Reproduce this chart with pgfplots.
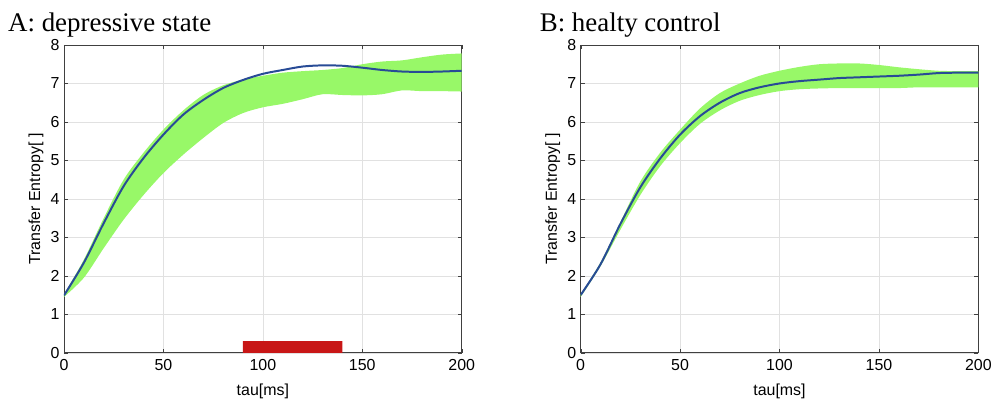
\documentclass[border=0pt]{standalone}
\usepackage{pgfplots}
\pgfplotsset{compat=1.18}
\usepgfplotslibrary{fillbetween}
\usepackage{fontspec}
\setmainfont{Liberation Sans}
\newfontfamily\titlefont{Liberation Serif}
\definecolor{bandgreen}{RGB}{152,248,104}
\definecolor{meanblue}{RGB}{40,75,150}
\definecolor{sigred}{RGB}{200,22,22}
\definecolor{gridgray}{RGB}{225,225,225}

% panel A
\pgfplotstableread{
x mean up lo
0 1.49 1.52 1.45
10 2.34 2.42 1.95
20 3.37 3.50 2.72
30 4.33 4.50 3.46
40 5.06 5.20 4.10
50 5.67 5.80 4.67
60 6.19 6.30 5.15
70 6.57 6.70 5.58
80 6.88 6.95 5.97
90 7.09 7.10 6.23
100 7.25 7.20 6.38
110 7.35 7.28 6.47
120 7.44 7.32 6.59
130 7.47 7.35 6.72
140 7.46 7.40 6.70
150 7.41 7.50 6.69
160 7.35 7.57 6.72
170 7.31 7.60 6.82
180 7.30 7.68 6.80
190 7.31 7.75 6.80
200 7.33 7.78 6.79
}\dataA

% panel B
\pgfplotstableread{
x mean up lo
0 1.50 1.52 1.45
10 2.30 2.35 2.25
20 3.35 3.40 3.20
30 4.30 4.45 4.10
40 5.05 5.20 4.85
50 5.67 5.80 5.45
60 6.15 6.35 5.95
70 6.50 6.75 6.30
80 6.75 7.00 6.55
90 6.90 7.20 6.70
100 7.00 7.33 6.80
110 7.06 7.43 6.85
120 7.10 7.50 6.87
130 7.14 7.52 6.88
140 7.16 7.52 6.88
150 7.18 7.48 6.88
160 7.20 7.42 6.88
170 7.23 7.37 6.90
180 7.27 7.33 6.90
190 7.28 7.32 6.90
200 7.28 7.32 6.90
}\dataB

\pgfplotstableread{
x y
90 0.3
140 0.3
}\dataBar

\pgfplotsset{
  panel/.style={
    scale only axis, width=398bp, height=308bp,
    xmin=0, xmax=200, ymin=0, ymax=8,
    xtick={0,50,100,150,200}, ytick={0,1,2,3,4,5,6,7,8},
    grid=major, major grid style={gridgray, line width=0.5pt},
    tick align=inside, tick pos=both,
    major tick length=4bp,
    axis line style={black!75, line width=0.6pt},
    tick style={black!75},
    tick label style={font=\fontsize{16}{18}\selectfont},
    xticklabel style={yshift=-3bp},
    yticklabel style={xshift=-1bp},
    label style={font=\fontsize{16}{18}\selectfont},
    /pgf/number format/assume math mode=true,
    xlabel={tau[ms]}, ylabel={Transfer Entropy[\,\,]},
    xlabel style={at={(axis description cs:0.5,0)}, anchor=base, yshift=-43bp},
    ylabel style={at={(axis description cs:0,0.5)}, anchor=center, yshift=28bp},
  }
}

\begin{document}
\begin{tikzpicture}
\path (0bp,0bp) rectangle (995bp,401bp);
\begin{axis}[panel, at={(64bp,48bp)}, anchor=south west]
  \addplot[name path=upA, draw=none, smooth] table[x=x,y=up] {\dataA};
  \addplot[name path=loA, draw=none, smooth] table[x=x,y=lo] {\dataA};
  \addplot[bandgreen, draw=none] fill between[of=upA and loA];
  \addplot[meanblue, line width=2pt, smooth] table[x=x,y=mean] {\dataA};
  \addplot[fill=sigred, draw=none, const plot] table[x=x,y=y] {\dataBar} \closedcycle;
\end{axis}
\node[anchor=base west, font=\titlefont\fontsize{27}{30}\selectfont, inner sep=0pt] at (8bp,369bp) {A: depressive state};
\begin{axis}[panel, at={(581bp,48bp)}, anchor=south west]
  \addplot[name path=upB, draw=none, smooth] table[x=x,y=up] {\dataB};
  \addplot[name path=loB, draw=none, smooth] table[x=x,y=lo] {\dataB};
  \addplot[bandgreen, draw=none] fill between[of=upB and loB];
  \addplot[meanblue, line width=2pt, smooth] table[x=x,y=mean] {\dataB};
\end{axis}
\node[anchor=base west, font=\titlefont\fontsize{27}{30}\selectfont, inner sep=0pt] at (540bp,369bp) {B: healty control};
\end{tikzpicture}
\end{document}
